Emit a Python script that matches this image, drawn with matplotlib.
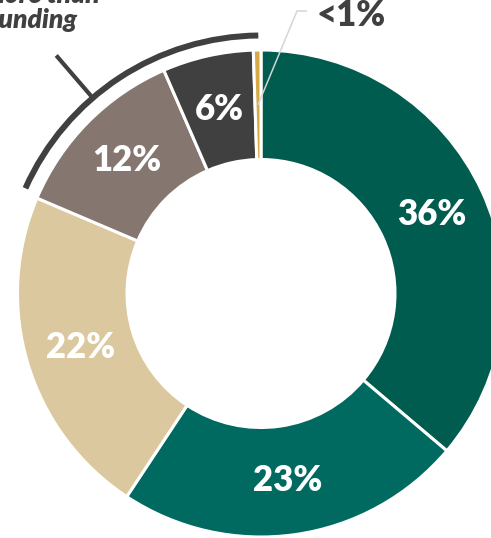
import numpy as np
import matplotlib
matplotlib.use("Agg")
import matplotlib.pyplot as plt
from matplotlib.patches import Arc

# Share of total, clockwise from 12 o'clock
labels = ["36%", "23%", "22%", "12%", "6%", "<1%"]
values = [36, 23, 22, 12, 6, 0.5]
colors = ["#005C4F", "#006A61", "#DBC89E", "#857670", "#404040", "#D6A945"]

W, H = 491, 538
fig = plt.figure(figsize=(W / 100, H / 100), dpi=100)
ax = fig.add_axes([0, 0, 1, 1])

cx, cy = 261, H - 293.5
R = 243.5
ring = 109.5

wedges, _ = ax.pie(
    values, colors=colors, startangle=90, counterclock=False,
    radius=R, center=(cx, cy),
    wedgeprops=dict(width=ring, edgecolor="white", linewidth=2.2),
)
ax.set_xlim(0, W)
ax.set_ylim(0, H)
ax.set_aspect("equal")
ax.axis("off")

font = "Lato"
mid_r = R - ring / 2
for w, lab in zip(wedges[:-1], labels[:-1]):
    ang = np.deg2rad((w.theta1 + w.theta2) / 2)
    ax.text(cx + mid_r * np.cos(ang), cy + mid_r * np.sin(ang), lab,
            ha="center", va="center", color="white", fontsize=25,
            fontweight="heavy", family=font)

# Leader line for the smallest slice
small = wedges[-1]
ang = np.deg2rad((small.theta1 + small.theta2) / 2)
x0, y0 = cx + mid_r * np.cos(ang), cy + mid_r * np.sin(ang)
ax.plot([x0, 297, 307], [y0, H - 11, H - 11], color="#D5D5D5", lw=1.1,
        solid_capstyle="butt")
ax.text(317, H - 15, labels[-1], ha="left", va="center", color="#404040",
        fontsize=25, fontweight="heavy", family=font)

# Bracket over the three smaller slices (tan/taupe boundary up to the top)
r_arc = 258
frac_start = sum(values[:3]) / sum(values)
t1 = 90.6
t2 = 90 - 360 * frac_start + 360 - 1.0
ax.add_patch(Arc((cx, cy), 2 * r_arc, 2 * r_arc, theta1=t1, theta2=t2,
                 color="#404040", lw=4.3, capstyle="butt"))
tick = np.deg2rad(90 - 319.3)
ax.plot([cx + r_arc * np.cos(tick), cx + 314 * np.cos(tick)],
        [cy + r_arc * np.sin(tick), cy + 314 * np.sin(tick)],
        color="#404040", lw=3, solid_capstyle="butt")

ax.text(100, H - 3, "Raised more than", ha="right", va="baseline",
        color="#404040", fontsize=19, fontweight="heavy", style="italic",
        family=font)
ax.text(77, H - 28, "$5M+ in funding", ha="right", va="baseline",
        color="#404040", fontsize=19, fontweight="heavy", style="italic",
        family=font)

fig.savefig("out.png", dpi=100)
